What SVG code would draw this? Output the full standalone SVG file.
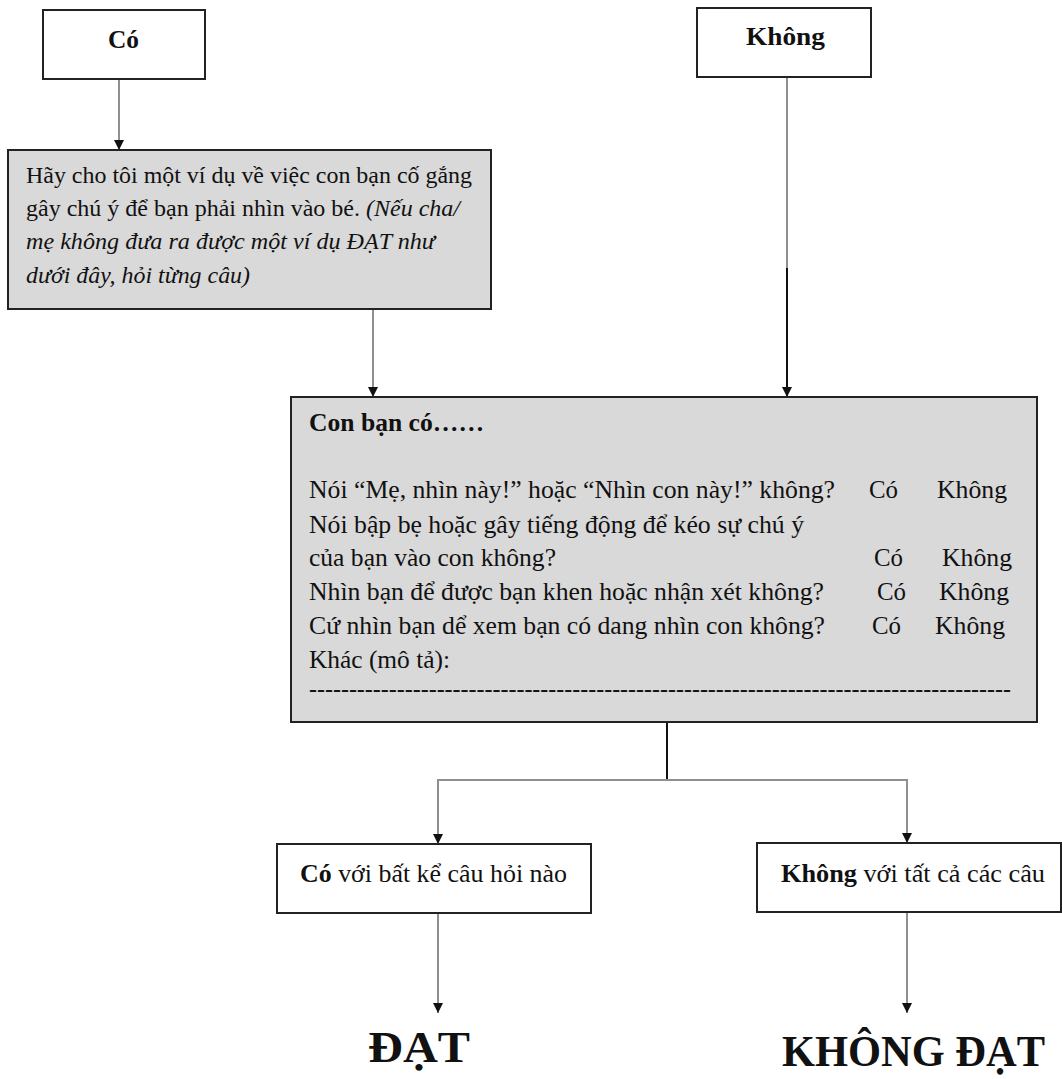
<svg xmlns="http://www.w3.org/2000/svg" width="1062" height="1079" viewBox="0 0 1062 1079">
<style>
text{font-family:"Liberation Serif","Times New Roman",serif;fill:#111}
.box{fill:#fff;stroke:#222;stroke-width:2}
.gbox{fill:#d9d9d9;stroke:#222;stroke-width:2}
.hd{font-size:25px;font-weight:bold}
.t1{font-size:23px}
.t2{font-size:25.5px}
.t3{font-size:25px}
.big{font-size:44px;font-weight:bold}
.g{stroke:#8f8f8f;stroke-width:2;fill:none}
.k{stroke:#111;stroke-width:2;fill:none}
</style>
<defs>
<marker id="ah" viewBox="0 0 10 10" refX="10" refY="5" markerWidth="10" markerHeight="10" markerUnits="userSpaceOnUse" orient="auto">
<path d="M0,0 L10,5 L0,10 z" fill="#111"/>
</marker>
</defs>
<g id="connectors">
<line class="g" x1="119" y1="79" x2="119" y2="150" marker-end="url(#ah)"/>
<line class="g" x1="787" y1="77" x2="787" y2="268"/>
<line class="k" x1="787" y1="268" x2="787" y2="397" marker-end="url(#ah)"/>
<line class="g" x1="373" y1="309" x2="373" y2="397" marker-end="url(#ah)"/>
<line class="k" x1="667" y1="722" x2="667" y2="780"/>
<polyline class="g" points="438,834 438,780 907,780 907,834"/>
<line class="g" x1="438" y1="820" x2="438" y2="844" marker-end="url(#ah)"/>
<line class="g" x1="907" y1="820" x2="907" y2="843" marker-end="url(#ah)"/>
<line class="g" x1="438" y1="913" x2="438" y2="1013" marker-end="url(#ah)"/>
<line class="g" x1="907" y1="912" x2="907" y2="1013" marker-end="url(#ah)"/>
</g>
<g id="node-co">
<rect class="box" x="43" y="10" width="162" height="69"/>
<text class="hd" x="108" y="48" textLength="31" lengthAdjust="spacingAndGlyphs">Có</text>
</g>
<g id="node-khong">
<rect class="box" x="697" y="8" width="174" height="69"/>
<text class="hd" x="746" y="45" textLength="79" lengthAdjust="spacingAndGlyphs">Không</text>
</g>
<g id="node-example">
<rect class="gbox" x="8" y="150" width="483" height="159"/>
<text class="t1" x="26" y="183" textLength="446" lengthAdjust="spacingAndGlyphs">Hãy cho tôi một ví dụ về việc con bạn cố gắng</text>
<text class="t1" x="26" y="216" textLength="434" lengthAdjust="spacingAndGlyphs">gây chú ý để bạn phải nhìn vào bé. <tspan font-style="italic">(Nếu cha/</tspan></text>
<text class="t1" x="26" y="249" font-style="italic" textLength="409" lengthAdjust="spacingAndGlyphs">mẹ không đưa ra được một ví dụ ĐẠT như</text>
<text class="t1" x="26" y="283" font-style="italic" textLength="224" lengthAdjust="spacingAndGlyphs">dưới đây, hỏi từng câu)</text>
</g>
<g id="node-questions">
<rect class="gbox" x="291" y="397" width="746" height="325"/>
<text class="t2" x="309" y="431" font-weight="bold" textLength="175" lengthAdjust="spacingAndGlyphs">Con bạn có……</text>
<text class="t2" x="309" y="498" textLength="526" lengthAdjust="spacingAndGlyphs">Nói “Mẹ, nhìn này!” hoặc “Nhìn con này!” không?</text>
<text class="t2" x="869" y="498" textLength="29" lengthAdjust="spacingAndGlyphs">Có</text>
<text class="t2" x="937" y="498" textLength="70" lengthAdjust="spacingAndGlyphs">Không</text>
<text class="t2" x="309" y="533" textLength="495" lengthAdjust="spacingAndGlyphs">Nói bập bẹ hoặc gây tiếng động để kéo sự chú ý</text>
<text class="t2" x="309" y="566" textLength="247" lengthAdjust="spacingAndGlyphs">của bạn vào con không?</text>
<text class="t2" x="874" y="566" textLength="29" lengthAdjust="spacingAndGlyphs">Có</text>
<text class="t2" x="942" y="566" textLength="70" lengthAdjust="spacingAndGlyphs">Không</text>
<text class="t2" x="309" y="600" textLength="515" lengthAdjust="spacingAndGlyphs">Nhìn bạn để được bạn khen hoặc nhận xét không?</text>
<text class="t2" x="877" y="600" textLength="29" lengthAdjust="spacingAndGlyphs">Có</text>
<text class="t2" x="939" y="600" textLength="70" lengthAdjust="spacingAndGlyphs">Không</text>
<text class="t2" x="309" y="634" textLength="516" lengthAdjust="spacingAndGlyphs">Cứ nhìn bạn dể xem bạn có dang nhìn con không?</text>
<text class="t2" x="872" y="634" textLength="29" lengthAdjust="spacingAndGlyphs">Có</text>
<text class="t2" x="935" y="634" textLength="70" lengthAdjust="spacingAndGlyphs">Không</text>
<text class="t2" x="309" y="668" textLength="141" lengthAdjust="spacingAndGlyphs">Khác (mô tả):</text>
<text class="t2" x="309" y="697" textLength="702" lengthAdjust="spacingAndGlyphs">----------------------------------------------------------------------------------------</text>
</g>
<g id="node-yes-any">
<rect class="box" x="277" y="844" width="314" height="69"/>
<text class="t3" x="300" y="882" textLength="267" lengthAdjust="spacingAndGlyphs"><tspan font-weight="bold">Có</tspan> với bất kể câu hỏi nào</text>
</g>
<g id="node-no-all">
<rect class="box" x="757" y="843" width="304" height="69"/>
<text class="t3" x="781" y="882" textLength="264" lengthAdjust="spacingAndGlyphs"><tspan font-weight="bold">Không</tspan> với tất cả các câu</text>
</g>
<g id="node-dat">
<text class="big" x="368" y="1062" textLength="102" lengthAdjust="spacingAndGlyphs">ĐẠT</text>
</g>
<g id="node-khong-dat">
<text class="big" x="782" y="1066" textLength="263" lengthAdjust="spacingAndGlyphs">KHÔNG ĐẠT</text>
</g>
</svg>
